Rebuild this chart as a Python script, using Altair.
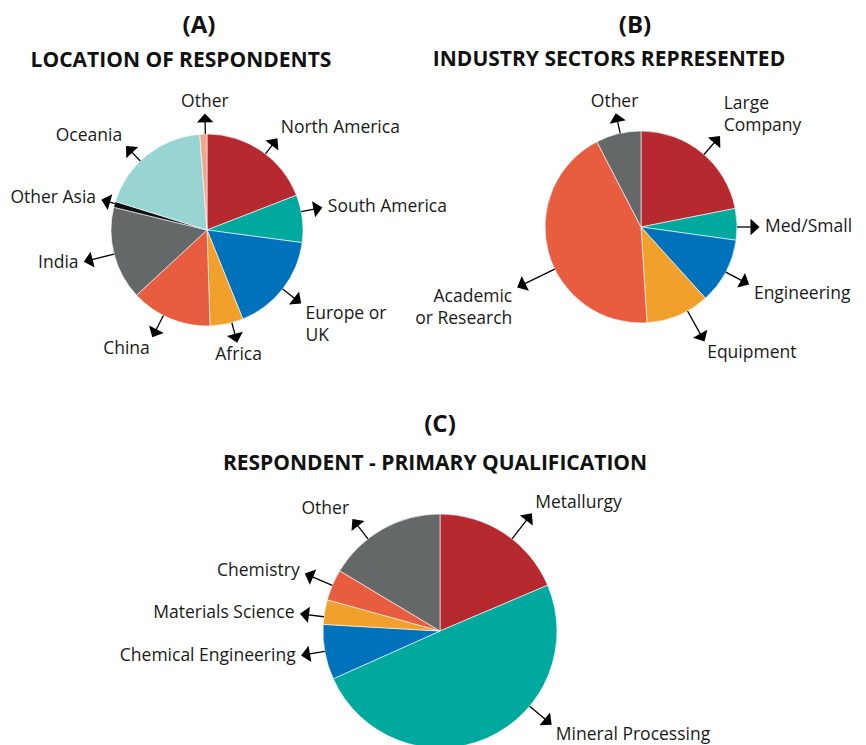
import altair as alt
import pandas as pd

# ---------------- data ----------------
a_labels = ["North America", "South America", "Europe or\nUK", "Africa", "China",
            "India", "Other Asia", "Oceania", "Other"]
a_values = [19.1, 8.0, 16.8, 5.6, 13.6, 15.7, 1.0, 19.0, 1.2]
a_callout_deg = [37.5, 79, 128, 165, 207, 255.5, 286, 316, 359]

b_labels = ["Large\nCompany", "Med/Small", "Engineering", "Equipment",
            "Academic\nor Research", "Other"]
b_values = [21.9, 5.3, 11.1, 10.7, 43.4, 7.6]
b_callout_deg = [41, 90, 118, 151, 244, 347.5]

c_labels = ["Metallurgy", "Mineral Processing", "Chemical Engineering",
            "Materials Science", "Chemistry", "Other"]
c_values = [18.6, 49.7, 7.6, 3.4, 4.3, 16.4]
c_callout_deg = [38, 130, 260, 277, 293, 322]

panel_letters = ["(A)", "(B)", "(C)"]
panel_titles = ["LOCATION OF RESPONDENTS", "INDUSTRY SECTORS REPRESENTED",
                "RESPONDENT - PRIMARY QUALIFICATION"]

# ---------------- styles ----------------
# callout arrow length, as a multiple of the pie radius
a_callout_len = [1.21, 1.23, 1.25, 1.22, 1.26, 1.33, 1.15, 1.22, 1.22]
b_callout_len = [1.26, 1.24, 1.28, 1.37, 1.44, 1.22]
c_callout_len = [1.28, 1.25, 1.21, 1.21, 1.26, 1.22]

RED = "#B6292F"
TEAL = "#00A99D"
BLUE = "#0071BB"
ORANGE = "#F0A02B"
CORAL = "#E85C3F"
GRAY = "#646869"
BLACK = "#111111"
LTEAL = "#98D5D2"
SALMON = "#F1A58E"

a_colors = [RED, TEAL, BLUE, ORANGE, CORAL, GRAY, BLACK, LTEAL, SALMON]
b_colors = [RED, TEAL, BLUE, ORANGE, CORAL, GRAY]
c_colors = [RED, TEAL, BLUE, ORANGE, CORAL, GRAY]

FONT = "Open Sans"
LABEL_SIZE = 17.5
LINE_H = 22
HEAD_PATH = "M0,-0.55L1,0.55L-1,0.55Z"
BASELINE_DY = {"top": -2, "middle": 0, "bottom": 3}
W, H = 850, 737


def pie(labels, values, callouts, lens, colors, cx, cy, r):
    df = pd.DataFrame({"label": labels, "value": values,
                       "callout": callouts, "len": lens,
                       "idx": list(range(len(labels)))})
    base = alt.Chart(df)
    arc = base.mark_arc(radius=r, stroke="white", strokeWidth=0.6).encode(
        theta=alt.Theta("value:Q", stack=True),
        order=alt.Order("idx:Q"),
        color=alt.Color("label:N", scale=alt.Scale(domain=labels, range=colors),
                        legend=None),
        x=alt.value(cx),
        y=alt.value(cy),
    )
    geo = base.transform_calculate(
        th="datum.callout * PI / 180",
        rt=f"{r} * datum.len",
        nl="length(split(datum.label, '\\n'))",
    ).transform_calculate(
        sx=f"{cx} + {r} * sin(datum.th)",
        sy=f"{cy} - {r} * cos(datum.th)",
        px=f"{cx} + (datum.rt - 5) * sin(datum.th)",
        py=f"{cy} - (datum.rt - 5) * cos(datum.th)",
        al="sin(datum.th) > 0.3 ? 'left' : (sin(datum.th) < -0.3 ? 'right' : 'center')",
        bl="cos(datum.th) > 0.45 ? 'bottom' : (cos(datum.th) < -0.4 ? 'top' : 'middle')",
    ).transform_calculate(
        lx=f"{cx} + (datum.rt + 5) * sin(datum.th)",
        ly=f"{cy} - (datum.rt + 5) * cos(datum.th)"
           f" - (datum.bl == 'bottom' ? (datum.nl - 1) * {LINE_H} : 0)",
    )
    rule = geo.mark_rule(color="black", strokeWidth=1.3).encode(
        x=alt.X("sx:Q", scale=None, axis=None),
        y=alt.Y("sy:Q", scale=None, axis=None),
        x2="px:Q",
        y2="py:Q",
    )
    head = geo.mark_point(shape=HEAD_PATH, filled=True, color="black",
                          size=270, opacity=1, strokeWidth=0).encode(
        x=alt.X("px:Q", scale=None, axis=None),
        y=alt.Y("py:Q", scale=None, axis=None),
        angle=alt.Angle("callout:Q", scale=None),
    )
    texts = []
    for a in ["left", "center", "right"]:
        for b in ["top", "middle", "bottom"]:
            texts.append(
                geo.transform_filter(f"datum.al == '{a}' && datum.bl == '{b}'")
                .mark_text(align=a, baseline=b, dy=BASELINE_DY[b], font=FONT,
                           fontSize=LABEL_SIZE, lineBreak="\n",
                           lineHeight=LINE_H, color="#1a1a1a")
                .encode(x=alt.X("lx:Q", scale=None, axis=None),
                        y=alt.Y("ly:Q", scale=None, axis=None),
                        text="label:N")
            )
    return alt.layer(arc, rule, head, *texts)


def title_text(txt, x, y, size):
    return alt.Chart(pd.DataFrame({"t": [txt]})).mark_text(
        font=FONT, fontSize=size, fontWeight="bold", align="center",
        baseline="middle", color="#111111"
    ).encode(text="t:N", x=alt.value(x), y=alt.value(y))


pie_a = pie(a_labels, a_values, a_callout_deg, a_callout_len, a_colors, 199, 222, 96)
pie_b = pie(b_labels, b_values, b_callout_deg, b_callout_len, b_colors, 633, 219, 96)
pie_c = pie(c_labels, c_values, c_callout_deg, c_callout_len, c_colors, 432, 623, 117)

titles = [
    title_text(panel_letters[0], 191, 18, 24),
    title_text(panel_titles[0], 173, 53, 21),
    title_text(panel_letters[1], 627, 18, 24),
    title_text(panel_titles[1], 601, 52, 21),
    title_text(panel_letters[2], 432, 417, 24),
    title_text(panel_titles[2], 427, 456, 21),
]

chart = alt.layer(*titles, pie_a, pie_b, pie_c).resolve_scale(
    theta="independent", color="independent"
).properties(
    width=W, height=H, padding=0,
    autosize=alt.AutoSizeParams(type="none"),
).configure_view(strokeWidth=0)

chart.save("out.html", embed_options={"renderer": "svg", "actions": False})
